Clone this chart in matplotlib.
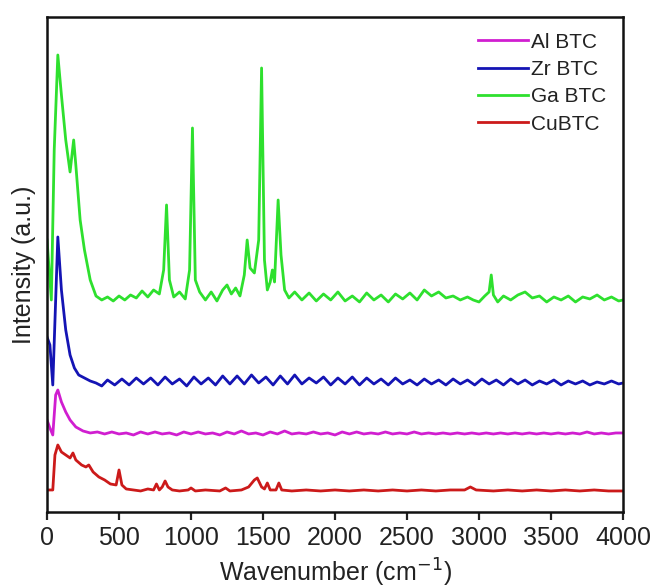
import matplotlib
matplotlib.use("Agg")
import matplotlib.pyplot as plt

plt.rcParams['font.family'] = ['Liberation Sans', 'DejaVu Sans']

# Ga BTC (offset spectrum, a.u.)
ga_wn = [0, 30, 50, 75, 100, 130, 160, 185, 200, 230, 260, 300, 340, 380, 420, 460, 500, 540,
         580, 620, 660, 700, 740, 780, 810, 830, 850, 880, 920, 960, 990, 1010, 1030, 1060, 1100,
         1140, 1180, 1220, 1250, 1280, 1310, 1340, 1370, 1390, 1410, 1440, 1470, 1490, 1510, 1530,
         1550, 1565, 1580, 1605, 1625, 1650, 1680, 1720, 1770, 1820, 1870, 1920, 1970, 2020, 2070,
         2120, 2170, 2220, 2270, 2320, 2370, 2420, 2470, 2520, 2570, 2620, 2670, 2720, 2770, 2820,
         2870, 2920, 2960, 3000, 3040, 3070, 3085, 3100, 3130, 3170, 3220, 3270, 3320, 3370, 3420,
         3470, 3520, 3570, 3620, 3670, 3720, 3770, 3820, 3870, 3920, 3970, 4000]
ga_int = [272, 212, 362, 457, 417, 372, 340, 372, 347, 292, 262, 232, 216, 212, 215, 211, 216, 212,
          217, 214, 221, 215, 222, 218, 242, 307, 232, 215, 220, 213, 242, 384, 232, 220, 212,
          220, 211, 222, 227, 218, 224, 216, 237, 272, 244, 239, 272, 444, 252, 222,
          230, 242, 230, 312, 257, 222, 214, 220, 212, 219, 211, 218, 212, 220, 211,
          216, 210, 219, 212, 217, 210, 218, 213, 219, 212, 222, 216, 220, 214, 216,
          212, 215, 212, 210, 216, 220, 237, 217, 210, 216, 212, 217, 220, 214, 216,
          210, 215, 212, 216, 210, 215, 213, 217, 212, 215, 211, 212]

# Zr BTC
zr_wn = [0, 20, 40, 60, 75, 100, 130, 160, 190, 220, 260, 300, 340, 380, 420, 470, 520, 570, 620,
         670, 720, 770, 820, 870, 920, 970, 1020, 1070, 1120, 1170, 1220, 1270, 1320, 1370, 1420,
         1470, 1520, 1570, 1620, 1670, 1720, 1770, 1820, 1870, 1920, 1970, 2020, 2070, 2120, 2170,
         2220, 2270, 2320, 2370, 2420, 2470, 2520, 2570, 2620, 2670, 2720, 2770, 2820, 2870, 2920,
         2970, 3020, 3070, 3120, 3170, 3220, 3270, 3320, 3370, 3420, 3470, 3520, 3570, 3620, 3670,
         3720, 3770, 3820, 3870, 3920, 3970, 4000]
zr_int = [175, 167, 127, 212, 275, 222, 182, 157, 144, 137, 134, 131, 129, 126, 132, 127, 133, 127, 134,
          128, 134, 127, 135, 128, 133, 126, 135, 128, 134, 127, 136, 128, 136, 128, 137,
          129, 135, 127, 136, 128, 137, 128, 134, 129, 135, 127, 134, 128, 135, 127,
          134, 128, 133, 127, 134, 128, 132, 127, 133, 128, 132, 127, 133, 128, 132,
          127, 133, 128, 132, 127, 133, 128, 132, 127, 131, 128, 132, 127, 131, 128,
          131, 127, 130, 128, 131, 128, 129]

# Al BTC
al_wn = [0, 20, 40, 60, 75, 100, 130, 160, 200, 250, 300, 350, 400, 450, 500, 550, 600, 650, 700,
         750, 800, 850, 900, 950, 1000, 1050, 1100, 1150, 1200, 1250, 1300, 1350, 1400, 1450, 1500,
         1550, 1600, 1650, 1700, 1750, 1800, 1850, 1900, 1950, 2000, 2050, 2100, 2150, 2200, 2250,
         2300, 2350, 2400, 2450, 2500, 2550, 2600, 2650, 2700, 2750, 2800, 2850, 2900, 2950, 3000,
         3050, 3100, 3150, 3200, 3250, 3300, 3350, 3400, 3450, 3500, 3550, 3600, 3650, 3700, 3750,
         3800, 3850, 3900, 3950, 4000]
al_int = [92, 84, 77, 117, 122, 110, 100, 92, 85, 81, 79, 80, 78, 80, 78, 79, 77, 80, 78,
          80, 78, 79, 77, 80, 78, 80, 78, 79, 77, 80, 78, 81, 78, 79, 77,
          80, 78, 81, 78, 79, 78, 80, 78, 79, 77, 80, 78, 80, 78, 79,
          78, 80, 78, 79, 78, 80, 78, 79, 78, 79, 78, 79, 78, 79, 78,
          79, 78, 79, 78, 79, 78, 79, 78, 79, 78, 79, 78, 79, 78, 80,
          78, 79, 78, 79, 79]

# CuBTC
cu_wn = [0, 40, 55, 75, 100, 130, 160, 180, 200, 240, 270, 290, 320, 360, 400, 440, 480, 500, 520,
         550, 600, 650, 700, 740, 760, 780, 800, 820, 840, 870, 920, 980, 1000, 1030, 1100, 1200,
         1240, 1270, 1350, 1400, 1440, 1460, 1490, 1510, 1530, 1550, 1590, 1610, 1630, 1700, 1800,
         1900, 2000, 2100, 2200, 2300, 2400, 2500, 2600, 2700, 2800, 2900, 2940, 2980, 3100, 3200,
         3300, 3400, 3500, 3600, 3700, 3800, 3900, 4000]
cu_int = [22, 22, 57, 67, 60, 57, 54, 59, 52, 47, 45, 47, 40, 35, 32, 28, 27, 42, 27,
          23, 22, 21, 23, 22, 28, 22, 25, 31, 25, 22, 21, 22, 24, 21, 22, 21,
          24, 21, 22, 25, 32, 34, 25, 23, 29, 22, 22, 29, 22, 21, 22,
          21, 22, 21, 22, 21, 22, 21, 22, 21, 22, 22, 25, 22, 21, 22,
          21, 22, 21, 22, 21, 22, 21, 21]

x_ticks = [0, 500, 1000, 1500, 2000, 2500, 3000, 3500, 4000]

fig = plt.figure(figsize=(6.54, 5.88), dpi=100)
ax = fig.add_axes([0.0719, 0.1293, 0.8807, 0.8418])

ax.plot(al_wn, al_int, color='#d01ed0', lw=2.0, label='Al BTC')
ax.plot(zr_wn, zr_int, color='#1414b4', lw=2.0, label='Zr BTC')
ax.plot(ga_wn, ga_int, color='#2ee02e', lw=2.0, label='Ga BTC')
ax.plot(cu_wn, cu_int, color='#cc1a1a', lw=2.0, label='CuBTC')

ax.set_xlim(0, 4000)
ax.set_ylim(0, 495)
ax.set_xticks(x_ticks)
ax.set_yticks([])
ax.tick_params(axis='x', direction='out', length=6, width=1.6, labelsize=18,
               colors='#222222', pad=4)
for s in ax.spines.values():
    s.set_linewidth(1.8)
    s.set_color('#111111')

ax.set_xlabel('Wavenumber (cm$^{-1}$)', fontsize=18, color='#222222', labelpad=5)
ax.set_ylabel('Intensity (a.u.)', fontsize=18, color='#222222', labelpad=8)

leg = ax.legend(loc='upper right', frameon=False, fontsize=15, handlelength=2.4,
                handletextpad=0.15, labelspacing=0.4, borderaxespad=0.0,
                bbox_to_anchor=(0.985, 0.985))
for t in leg.get_texts():
    t.set_color('#222222')

fig.savefig('out.png', dpi=100)
